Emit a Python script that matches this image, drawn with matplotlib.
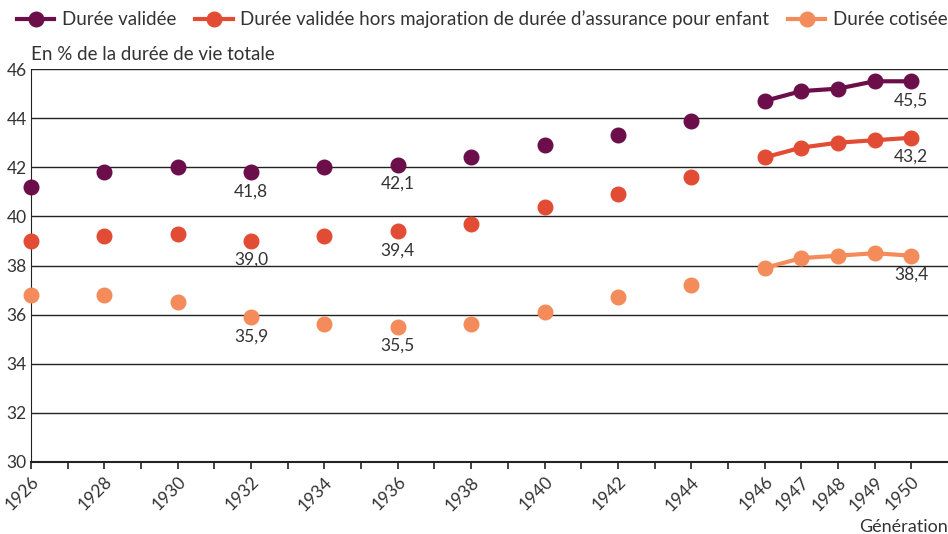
import matplotlib
matplotlib.use("Agg")
import matplotlib.pyplot as plt
import numpy as np

plt.rcParams['font.family'] = ['Lato', 'DejaVu Sans']

years = [1926, 1928, 1930, 1932, 1934, 1936, 1938, 1940, 1942, 1944,
         1946, 1947, 1948, 1949, 1950]
validee = [41.2, 41.8, 42.0, 41.8, 42.0, 42.1, 42.4, 42.9, 43.3, 43.9,
           44.7, 45.1, 45.2, 45.5, 45.5]
hors_maj = [39.0, 39.2, 39.3, 39.0, 39.2, 39.4, 39.7, 40.4, 40.9, 41.6,
            42.4, 42.8, 43.0, 43.1, 43.2]
cotisee = [36.8, 36.8, 36.5, 35.9, 35.6, 35.5, 35.6, 36.1, 36.7, 37.2,
           37.9, 38.3, 38.4, 38.5, 38.4]
labels = ["Durée validée",
          "Durée validée hors majoration de durée d\u2019assurance pour enfant",
          "Durée cotisée"]
colors = ["#6B0E4A", "#E24C34", "#F38B5A"]
annot_years = [1932, 1936, 1950]
yticks = list(range(30, 47, 2))

fig = plt.figure(figsize=(9.48, 5.34), dpi=100)
ax = fig.add_axes([31 / 948, 1 - 462 / 534, 917 / 948, 393 / 534])

yrs = np.array(years)
for vals, lab, col in zip([validee, hors_maj, cotisee], labels, colors):
    vals = np.array(vals)
    early = yrs < 1946
    ax.plot(yrs[early], vals[early], 'o', color=col, markersize=10.5,
            linestyle='none', zorder=3, clip_on=False)
    ax.plot(yrs[~early], vals[~early], 'o-', color=col, markersize=10.5,
            linewidth=3, zorder=3, label=lab, clip_on=False)
    for y, v in zip(yrs, vals):
        if y in annot_years:
            ax.annotate(f"{v:.1f}".replace(".", ","), (y, v), xytext=(0, -8),
                        textcoords='offset points', ha='center', va='top',
                        fontsize=12.5, color='#333333')

ax.set_xlim(1926, 1951)
ax.set_ylim(30, 46)
ax.set_yticks(yticks)
ax.set_yticklabels([str(t) for t in yticks], fontsize=12.5, color='#333333')
ax.grid(axis='y', color='#222222', linewidth=1)
ax.set_axisbelow(True)
ax.tick_params(axis='y', length=0, pad=3)

ax.set_xticks(range(1926, 1951), minor=True)
ax.set_xticks(years)
ax.set_xticklabels([str(y) for y in years], rotation=45, ha='right',
                   rotation_mode='anchor', fontsize=12.5, color='#333333')
ax.tick_params(axis='x', which='both', length=5, direction='out',
               color='#222222', width=1.2)

for s in ['top', 'right']:
    ax.spines[s].set_visible(False)
ax.spines['left'].set_color('#222222')
ax.spines['bottom'].set_color('#222222')
ax.spines['bottom'].set_linewidth(1.5)

fig.text(31 / 948, 1 - 55 / 534, "En % de la durée de vie totale", fontsize=13.5,
         color='#333333', va='center')
fig.text(1.0, 1 - 527 / 534, "Génération", fontsize=13, color='#333333',
         va='center', ha='right')

fig.legend(loc='upper left', bbox_to_anchor=(0.0, 1.012), ncol=3, frameon=False,
           fontsize=13.5, handlelength=2.0, columnspacing=1.0, handletextpad=0.4,
           labelcolor='#333333')

fig.savefig("out.png", dpi=100)
